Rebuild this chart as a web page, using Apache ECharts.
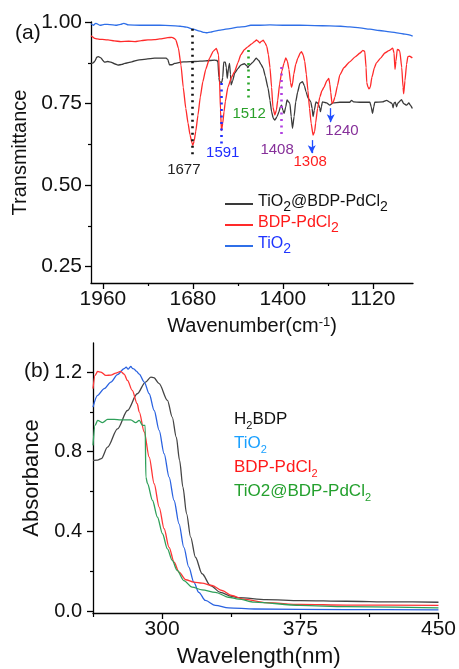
<!DOCTYPE html>
<html><head><meta charset="utf-8">
<script src="https://cdn.jsdelivr.net/npm/echarts@6/dist/echarts.min.js"></script>
<style>html,body{margin:0;padding:0;background:#fff}#c{width:459px;height:669px}</style>
</head><body><div id="c"></div>
<script>
const F = 'Liberation Sans, Arial, sans-serif';

// ---------- (a) FTIR data: [wavenumber, transmittance] ----------
const irTiO2 = [[1997,0.995],[1990,0.99],[1982,0.996],[1969,0.99],[1955,0.993],[1938,0.992],[1920,0.99],[1905,0.993],[1895,0.996],[1880,0.991],[1845,0.99],[1815,0.99],[1783,0.99],[1750,0.989],[1720,0.987],[1700,0.984],[1680,0.978],[1658,0.972],[1645,0.968],[1636,0.967],[1625,0.969],[1612,0.972],[1590,0.976],[1565,0.98],[1540,0.984],[1518,0.986],[1500,0.99],[1472,0.99],[1440,0.991],[1400,0.99],[1347,0.99],[1300,0.989],[1254,0.988],[1220,0.987],[1192,0.985],[1160,0.982],[1129,0.978],[1100,0.974],[1067,0.97],[1040,0.966],[1020,0.963],[996,0.957]];

const irBDP = [[1997,0.958],[1993,0.955],[1986,0.95],[1978,0.948],[1969,0.947],[1955,0.946],[1944,0.945],[1925,0.942],[1904,0.94],[1880,0.941],[1860,0.94],[1840,0.943],[1820,0.945],[1800,0.946],[1783,0.948],[1758,0.952],[1745,0.953],[1738,0.95],[1733,0.945],[1725,0.92],[1717,0.868],[1710,0.8],[1702,0.735],[1695,0.69],[1689,0.655],[1683,0.63],[1680,0.622],[1676,0.635],[1671,0.665],[1664,0.715],[1657,0.77],[1649,0.817],[1640,0.855],[1628,0.889],[1617,0.91],[1607,0.919],[1600,0.899],[1597,0.82],[1594,0.73],[1591,0.667],[1587,0.69],[1583,0.725],[1579,0.756],[1571,0.80],[1560,0.83],[1550,0.848],[1540,0.875],[1531,0.899],[1520,0.915],[1509,0.924],[1498,0.932],[1488,0.94],[1482,0.945],[1478,0.942],[1472,0.936],[1468,0.94],[1461,0.944],[1455,0.935],[1450,0.925],[1445,0.9],[1440,0.86],[1435,0.8],[1431,0.74],[1425,0.715],[1420,0.73],[1416,0.76],[1410,0.81],[1403,0.85],[1396,0.875],[1391,0.89],[1386,0.88],[1381,0.855],[1376,0.815],[1373,0.8],[1370,0.81],[1366,0.84],[1360,0.87],[1353,0.89],[1346,0.905],[1342,0.909],[1337,0.9],[1332,0.88],[1327,0.84],[1322,0.79],[1317,0.735],[1312,0.69],[1306,0.653],[1301,0.665],[1298,0.69],[1292,0.735],[1285,0.77],[1278,0.79],[1272,0.80],[1263,0.82],[1257,0.827],[1254,0.81],[1251,0.785],[1247,0.75],[1243,0.755],[1238,0.77],[1230,0.805],[1223,0.837],[1210,0.86],[1192,0.878],[1175,0.893],[1160,0.905],[1151,0.913],[1145,0.91],[1141,0.86],[1139,0.815],[1135,0.8],[1132,0.795],[1128,0.8],[1123,0.83],[1115,0.86],[1109,0.875],[1095,0.89],[1083,0.905],[1070,0.912],[1058,0.92],[1054,0.905],[1051,0.855],[1048,0.88],[1044,0.916],[1040,0.915],[1036,0.91],[1030,0.86],[1026,0.8],[1024,0.78],[1020,0.82],[1015,0.87],[1011,0.894],[1005,0.895],[997,0.89]];

const irComposite = [[1997,0.873],[1990,0.875],[1985,0.88],[1979,0.892],[1974,0.894],[1966,0.89],[1960,0.882],[1955,0.877],[1945,0.879],[1935,0.877],[1924,0.872],[1913,0.868],[1900,0.87],[1892,0.873],[1870,0.878],[1851,0.883],[1825,0.886],[1799,0.889],[1780,0.889],[1763,0.889],[1758,0.885],[1753,0.869],[1745,0.869],[1737,0.873],[1717,0.877],[1700,0.878],[1675,0.879],[1640,0.881],[1612,0.883],[1605,0.882],[1602,0.877],[1599,0.83],[1597,0.817],[1590,0.815],[1587,0.83],[1584,0.877],[1579,0.877],[1576,0.86],[1573,0.827],[1569,0.86],[1566,0.873],[1563,0.84],[1561,0.807],[1556,0.82],[1550,0.843],[1540,0.857],[1531,0.868],[1520,0.872],[1512,0.866],[1509,0.86],[1505,0.866],[1493,0.877],[1483,0.889],[1475,0.882],[1468,0.87],[1461,0.858],[1455,0.835],[1446,0.797],[1440,0.76],[1435,0.725],[1430,0.705],[1425,0.699],[1418,0.71],[1412,0.725],[1408,0.74],[1404,0.745],[1400,0.73],[1396,0.72],[1391,0.74],[1387,0.761],[1382,0.755],[1378,0.75],[1374,0.71],[1370,0.674],[1365,0.71],[1360,0.755],[1354,0.785],[1347,0.812],[1339,0.817],[1333,0.805],[1328,0.786],[1321,0.766],[1313,0.755],[1309,0.735],[1306,0.71],[1302,0.73],[1297,0.755],[1290,0.75],[1285,0.735],[1283,0.725],[1280,0.74],[1277,0.755],[1264,0.752],[1254,0.745],[1244,0.752],[1223,0.754],[1192,0.754],[1186,0.76],[1180,0.755],[1160,0.754],[1129,0.754],[1125,0.74],[1121,0.72],[1117,0.74],[1114,0.754],[1090,0.755],[1077,0.76],[1067,0.754],[1060,0.75],[1057,0.737],[1054,0.752],[1050,0.754],[1046,0.74],[1043,0.75],[1039,0.754],[1031,0.762],[1024,0.75],[1015,0.745],[1008,0.752],[1003,0.745],[997,0.735]];

// peak annotations
const peakNames = ['1677','1591','1512','1408','1308','1240'];
const peakLineX = [1682,1593,1509,1404,1310,1251];
const peakLineTop = [0.979,0.813,0.914,0.862,0.638,0.736];
const peakLineBottom = [0.592,0.617,0.761,0.644,0.598,0.693];
const peakIsArrow = [false,false,false,false,true,true];
const peakLabelX = [1708,1587,1505,1418,1315,1216];
const peakLabelY = [0.546,0.598,0.718,0.608,0.571,0.666];
const peakLineColors = ['#111111','#1f2dff','#2aa52a','#b040e0','#1f4dff','#1f4dff'];
const peakLabelColors = ['#222222','#1f2dff','#2aa02a','#86309a','#ff1f1f','#86309a'];

const irXLabels = [1960,1680,1400,1120];
const irXMinor = [1820,1540,1260];
const irYLabels = [0.25,0.5,0.75,1.0];
const irYMinor = [0.375,0.625,0.875];

// ---------- (b) UV-vis data: [wavelength, absorbance] ----------
const uvH2BDP = [[262.5,0.757],[265,0.758],[267,0.765],[270.4,0.823],[275.8,0.915],[281.2,1.007],[286.5,1.091],[291,1.15],[293.9,1.175],[295.5,1.172],[298.4,1.142],[302.9,1.058],[305.5,0.974],[307.7,0.873],[309.5,0.756],[311.3,0.622],[313.3,0.488],[315.5,0.371],[318.1,0.27],[321.7,0.187],[326.2,0.128],[331.6,0.094],[337.8,0.073],[341.5,0.067],[356.5,0.057],[375,0.052],[400,0.049],[425,0.046],[450,0.044]];
const uvTiO2 = [[262.5,1.024],[265,1.083],[268.6,1.117],[272.2,1.15],[275.8,1.187],[279.4,1.217],[280.5,1.225],[281.5,1.215],[283,1.228],[284,1.218],[284.8,1.215],[286,1.205],[287.6,1.19],[290.3,1.15],[293,1.091],[295.7,1.007],[298.4,0.907],[301.1,0.79],[303.8,0.672],[306.5,0.555],[309.2,0.438],[311.8,0.32],[314.5,0.22],[317.2,0.145],[319.9,0.094],[323.5,0.053],[328.9,0.028],[336.1,0.016],[350,0.01],[400,0.007],[450,0.006]];
const uvBDP = [[262.5,1.117],[263.6,1.183],[265,1.203],[266.8,1.2],[269.5,1.183],[272.2,1.185],[274.9,1.195],[277.5,1.203],[279.4,1.19],[281.2,1.158],[283.8,1.108],[286.5,1.041],[287.6,1.0],[290.3,0.899],[293,0.773],[295.7,0.639],[298.4,0.522],[301.1,0.413],[303.8,0.32],[306.5,0.245],[309.2,0.195],[312.8,0.157],[317.2,0.145],[321.7,0.14],[327.1,0.128],[332.5,0.103],[337.8,0.078],[344,0.06],[356.5,0.042],[375,0.033],[400,0.03],[450,0.028]];
const uvComposite = [[262.5,0.832],[263.6,0.932],[265,0.957],[267.7,0.946],[270.4,0.962],[274,0.962],[277.5,0.96],[283,0.96],[285.7,0.946],[287.6,0.957],[289.4,0.932],[290.8,0.932],[291.2,0.672],[292.1,0.639],[294.8,0.555],[297.5,0.471],[300.2,0.388],[302.9,0.312],[305.5,0.254],[308.2,0.204],[311.8,0.153],[316.3,0.12],[321.7,0.106],[328.9,0.094],[336.1,0.069],[341.5,0.06],[350,0.045],[375,0.028],[400,0.022],[450,0.016]];

const uvXLabels = [300,375,450];
const uvXMinor = [262.5,337.5,412.5];
const uvYLabels = [0,0.4,0.8,1.2];
const uvYMinor = [0.2,0.6,1.0];

// ---------- chart ----------
const chart = echarts.init(document.getElementById('c'), null, {renderer:'canvas'});

function tok(color, fs, lh, pad){ return {color, fontSize: fs, fontFamily: F, lineHeight: lh, verticalAlign:'top', padding:[pad||0,0,0,0]}; }
const legRichTop = {
  k: tok('#111',16,20), ks: tok('#111',14,14,6),
  r: tok('#ff1a1a',16,20), rs: tok('#ff1a1a',14,14,6),
  b: tok('#1f35ff',16,20), bs: tok('#1f35ff',14,14,6)
};
const legRichBot = {
  k: tok('#111',17,21), ks: tok('#111',11,11,9),
  c: tok('#1aa0ff',17,21), cs: tok('#1aa0ff',11,11,9),
  r: tok('#ff1a1a',17,21), rs: tok('#ff1a1a',11,11,9),
  g: tok('#24a02e',17,21), gs: tok('#24a02e',11,11,9)
};

const axisLineStyle = {color:'#000', width:1.3};
function mainX(grid, min, max, inverse, labels, fs, name, nameGap, nameFs, nameRich, namePad){
  return {type:'value', gridIndex:grid, min, max, inverse, position:'bottom',
    axisLine:{show:true, onZero:false, lineStyle:axisLineStyle},
    axisTick:{show:true, customValues:labels, length:6, lineStyle:{color:'#000', width:1.3}},
    axisLabel:{show:true, customValues:labels, fontSize:fs, fontFamily:F, color:'#111', margin:6, formatter: v=>String(v)},
    splitLine:{show:false},
    name, nameLocation:'middle', nameGap,
    nameTextStyle:{fontSize:nameFs, fontFamily:F, color:'#111', rich:nameRich, padding:namePad||0}};
}
function minorX(grid, min, max, inverse, vals, len){
  return {type:'value', gridIndex:grid, min, max, inverse, position:'bottom',
    axisLine:{show:false, onZero:false}, axisLabel:{show:false}, splitLine:{show:false},
    axisTick:{show:true, customValues:vals, length:len, lineStyle:{color:'#000', width:1.2}}};
}
function mainY(grid, min, max, labels, fs, digits, margin, name, nameGap, nameFs){
  return {type:'value', gridIndex:grid, min, max, position:'left',
    axisLine:{show:true, onZero:false, lineStyle:axisLineStyle},
    axisTick:{show:true, customValues:labels, length:6, lineStyle:{color:'#000', width:1.3}},
    axisLabel:{show:true, customValues:labels, fontSize:fs, fontFamily:F, color:'#111', margin, formatter: v=>v.toFixed(digits)},
    splitLine:{show:false},
    name, nameLocation:'middle', nameGap,
    nameTextStyle:{fontSize:nameFs, fontFamily:F, color:'#111'}};
}
function minorY(grid, min, max, vals){
  return {type:'value', gridIndex:grid, min, max, position:'left',
    axisLine:{show:false, onZero:false}, axisLabel:{show:false}, splitLine:{show:false},
    axisTick:{show:true, customValues:vals, length:3, lineStyle:{color:'#000', width:1.2}}};
}

const markLineData = peakNames.map((n,i)=>[
  {coord:[peakLineX[i], peakLineTop[i]], symbol:'none',
   lineStyle: peakIsArrow[i] ? {type:'solid', width:1.3, color:peakLineColors[i]} : {type:[2,4.5], width:2.6, color:peakLineColors[i], cap:'butt'}},
  {coord:[peakLineX[i], peakLineBottom[i]], symbol: peakIsArrow[i] ? 'arrow' : 'none', symbolSize:[6,8]}
]);
const markPointData = peakNames.map((n,i)=>({name:n, coord:[peakLabelX[i], peakLabelY[i]],
  label:{color:peakLabelColors[i]}}));

function lineSeries(name, data, xi, yi, color, smooth){
  return {type:'line', name, data, xAxisIndex:xi, yAxisIndex:yi, showSymbol:false, symbol:'none',
    smooth, smoothMonotone:'x', lineStyle:{color, width:1.3}, itemStyle:{color}, silent:true, z:3};
}

const option = {
  animation:false,
  backgroundColor:'#fff',
  title:[
    {text:'(a)', left:10, top:18, textStyle:{fontSize:21, fontWeight:'normal', fontFamily:F, color:'#111'}},
    {text:'(b)', left:19, top:356, textStyle:{fontSize:21, fontWeight:'normal', fontFamily:F, color:'#111'}}
  ],
  grid:[
    {left:91, top:22, width:322, height:261},
    {left:93, top:343, width:348, height:270}
  ],
  legend:[
    {orient:'vertical', left:220, top:189, itemWidth:28, itemHeight:2, icon:'rect', itemGap:1,
     selectedMode:false, data:['TiO2@BDP-PdCl2','BDP-PdCl2','TiO2'],
     textStyle:{fontFamily:F, fontSize:16, rich:legRichTop},
     formatter: n => n==='TiO2@BDP-PdCl2' ? '{k|TiO}{ks|2}{k|@BDP-PdCl}{ks|2}' : n==='BDP-PdCl2' ? '{r|BDP-PdCl}{rs|2}' : '{b|TiO}{bs|2}'},
    {orient:'vertical', left:224, top:406, itemWidth:0, itemHeight:0, icon:'none', itemGap:4,
     selectedMode:false, data:['H2BDP','TiO2','BDP-PdCl2','TiO2@BDP-PdCl2'],
     textStyle:{fontFamily:F, fontSize:17, rich:legRichBot},
     formatter: n => n==='H2BDP' ? '{k|H}{ks|2}{k|BDP}' : n==='TiO2' ? '{c|TiO}{cs|2}' : n==='BDP-PdCl2' ? '{r|BDP-PdCl}{rs|2}' : '{g|TiO2@BDP-PdCl}{gs|2}'}
  ],
  xAxis:[
    mainX(0, 995, 1997, true, irXLabels, 21, '{n|Wavenumber(cm}{p|-1}{n|)}', 33, 20,
      {n:{fontSize:20, fontFamily:F, color:'#111', lineHeight:22, verticalAlign:'top'}, p:{fontSize:13, fontFamily:F, color:'#111', lineHeight:13, verticalAlign:'top'}}),
    minorX(0, 995, 1997, true, irXMinor, 3),
    mainX(1, 262.5, 450, false, uvXLabels, 21, 'Wavelength(nm)', 32, 22.5, null, [0,14,0,0]),
    minorX(1, 262.5, 450, false, uvXMinor, 4)
  ],
  yAxis:[
    mainY(0, 0.2, 1.0, irYLabels, 21, 2, 9, 'Transmittance', 60, 20),
    minorY(0, 0.2, 1.0, irYMinor),
    mainY(1, -0.01, 1.346, uvYLabels, 20, 1, 11, 'Absorbance', 47, 22),
    minorY(1, -0.01, 1.346, uvYMinor)
  ],
  series:[
    lineSeries('TiO2@BDP-PdCl2', irComposite, 0, 0, '#3a3a3a', 0.15),
    lineSeries('BDP-PdCl2', irBDP, 0, 0, '#ff2a2a', 0.15),
    Object.assign(lineSeries('TiO2', irTiO2, 0, 0, '#2f6fe8', 0.3), {
      markLine:{silent:true, symbol:['none','none'], animation:false, label:{show:false}, data:markLineData},
      markPoint:{silent:true, symbol:'circle', symbolSize:0, animation:false,
        label:{show:true, position:'inside', fontSize:15, fontFamily:F, formatter:p=>p.name},
        data:markPointData}
    }),
    lineSeries('H2BDP', uvH2BDP, 2, 2, '#454545', 0.3),
    lineSeries('TiO2', uvTiO2, 2, 2, '#2a62e0', 0.3),
    lineSeries('BDP-PdCl2', uvBDP, 2, 2, '#ff3535', 0.3),
    lineSeries('TiO2@BDP-PdCl2', uvComposite, 2, 2, '#2fa05a', 0.3)
  ]
};
chart.setOption(option);
</script></body></html>
